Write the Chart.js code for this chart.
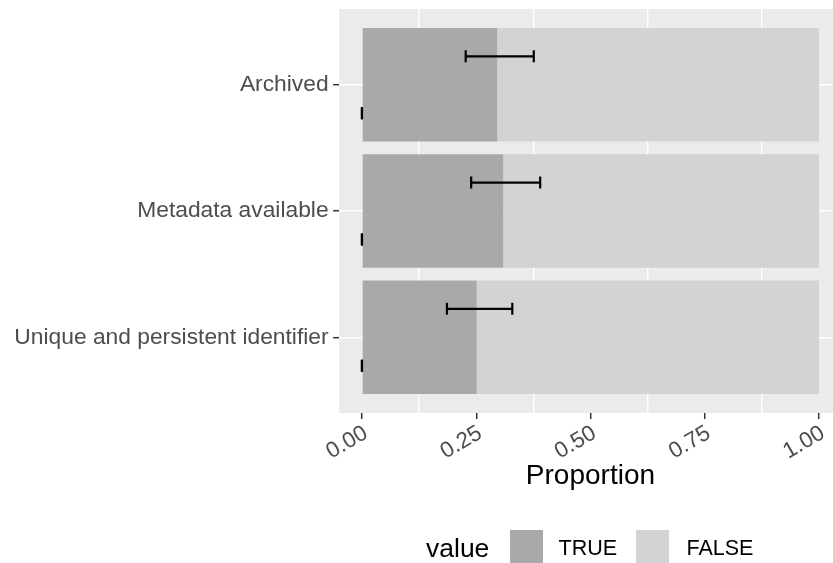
<!DOCTYPE html>
<html><head><meta charset="utf-8">
<script src="https://cdn.jsdelivr.net/npm/chart.js@4.4.0/dist/chart.umd.min.js"></script>
<style>
html,body{margin:0;padding:0;overflow:hidden;background:#fff;width:833px;height:563px;}
#wrap{position:relative;width:833px;height:563px;overflow:hidden;}
canvas{position:absolute;left:0;top:0;}
.leg{position:absolute;font-family:'Liberation Sans',Arial,sans-serif;white-space:nowrap;line-height:1;}
.sw{position:absolute;width:33px;height:33px;}
</style></head><body>
<div id="wrap">
<canvas id="c" width="850" height="563"></canvas>
<div class="leg" id="legTitle" style="left:426px;top:534.5px;font-size:26.5px;color:#000;"></div>
<div class="sw" id="sw0" style="left:509.5px;top:529.7px;"></div>
<div class="leg" id="lab0" style="left:558.5px;top:538.3px;font-size:21.5px;color:#000;"></div>
<div class="sw" id="sw1" style="left:635.7px;top:529.7px;"></div>
<div class="leg" id="lab1" style="left:686.5px;top:538.3px;font-size:21.5px;color:#000;"></div>
</div>
<script>
// ---- data ----
const categories = ['Archived', 'Metadata available', 'Unique and persistent identifier'];
const trueProp = [0.296, 0.309, 0.251];
const ciLow = [0.227, 0.239, 0.186];
const ciHigh = [0.376, 0.390, 0.329];
const falseCiLow = [0, 0, 0];
const falseCiHigh = [0, 0, 0];
const seriesNames = ['TRUE', 'FALSE'];
const xTickValues = [0, 0.25, 0.5, 0.75, 1];
const xTickLabels = ['0.00', '0.25', '0.50', '0.75', '1.00'];
const xMinorValues = [0.125, 0.375, 0.625, 0.875];
const legendTitle = 'value';
const xTitle = 'Proportion';

// ---- style ----
const fillColors = ['#A9A9A9', '#D3D3D3'];
const FONT = "'Liberation Sans', Arial, Helvetica, sans-serif";
const dodge = 0.225;

const datasets = [];
// error bars (drawn on top)
categories.forEach((c, i) => {
  const mk = (lo, hi, pos) => ({
    type: 'line',
    data: [{x: lo, y: pos}, {x: hi, y: pos}],
    borderColor: '#000', borderWidth: 2.2, fill: false,
    pointStyle: 'line', pointRotation: 90, pointRadius: 6,
    pointBorderWidth: 2.2, pointBorderColor: '#000', pointBackgroundColor: '#000',
    pointHoverRadius: 6, order: 0, stack: 'err' + i + '_' + pos
  });
  datasets.push(mk(ciLow[i], ciHigh[i], i + 1 - dodge));
  datasets.push(mk(falseCiLow[i], falseCiHigh[i], i + 1 + dodge));
});
datasets.push({
  type: 'bar', label: seriesNames[0],
  data: categories.map((c, i) => ({x: [0, trueProp[i]], y: i + 1})),
  backgroundColor: fillColors[0], borderWidth: 0, grouped: false,
  barPercentage: 0.9, categoryPercentage: 1, order: 2
});
datasets.push({
  type: 'bar', label: seriesNames[1],
  data: categories.map((c, i) => ({x: [trueProp[i], 1], y: i + 1})),
  backgroundColor: fillColors[1], borderWidth: 0, grouped: false,
  barPercentage: 0.9, categoryPercentage: 1, order: 2
});

const panelBg = {
  id: 'panelBg',
  beforeDraw(chart) {
    const {ctx, chartArea: a} = chart;
    ctx.save();
    ctx.fillStyle = '#EBEBEB';
    ctx.fillRect(a.left, a.top, a.right - a.left, a.bottom - a.top);
    ctx.restore();
  }
};

const isMajor = v => xTickValues.indexOf(v) >= 0;

new Chart(document.getElementById('c'), {
  data: {datasets},
  options: {
    indexAxis: 'y',
    responsive: false,
    animation: false,
    events: [],
    layout: {padding: {left: 0, top: 9, right: 7.1, bottom: 0}},
    plugins: {legend: {display: false}, tooltip: {enabled: false}},
    scales: {
      x: {
        type: 'linear', min: -0.05, max: 1.05, offset: false,
        afterBuildTicks: s => {
          s.ticks = [...xTickValues, ...xMinorValues].sort((a, b) => a - b).map(v => ({value: v}));
        },
        afterFit: s => { s.height = 150; },
        border: {display: false},
        grid: {
          offset: false,
          color: ctx => (ctx.tick && !isMajor(ctx.tick.value)) ? '#FFFFFF' : 'rgba(0,0,0,0)',
          lineWidth: 1.4,
          tickColor: ctx => (ctx.tick && isMajor(ctx.tick.value)) ? '#333333' : 'rgba(0,0,0,0)',
          tickLength: 6, tickWidth: 1.5
        },
        ticks: {
          autoSkip: false, minRotation: 30, maxRotation: 30,
          color: '#4D4D4D', padding: 1, labelOffset: 4,
          font: {family: FONT, size: 22.5},
          callback: v => { const k = xTickValues.indexOf(v); return k >= 0 ? xTickLabels[k] : ''; }
        },
        title: {
          display: true, text: xTitle, color: '#000',
          font: {family: FONT, size: 28},
          padding: {top: 0, bottom: 70}
        }
      },
      y: {
        type: 'linear', min: 0.4, max: 3.6, reverse: true, offset: false,
        afterBuildTicks: s => { s.ticks = categories.map((c, i) => ({value: i + 1})); },
        afterFit: s => { s.width = 339.1; s.paddingTop = 0; s.paddingBottom = 0; },
        border: {display: false},
        grid: {offset: false, color: '#FFFFFF', lineWidth: 1.4, tickColor: '#333333', tickLength: 6, tickWidth: 1.5},
        ticks: {
          autoSkip: false, color: '#4D4D4D', padding: 4.5,
          font: {family: FONT, size: 22.8},
          callback: v => categories[Math.round(v) - 1]
        }
      }
    }
  },
  plugins: [panelBg]
});

// legend (HTML text)
document.getElementById('legTitle').textContent = legendTitle;
document.getElementById('lab0').textContent = seriesNames[0];
document.getElementById('lab1').textContent = seriesNames[1];
document.getElementById('sw0').style.background = fillColors[0];
document.getElementById('sw1').style.background = fillColors[1];
</script>
</body></html>
